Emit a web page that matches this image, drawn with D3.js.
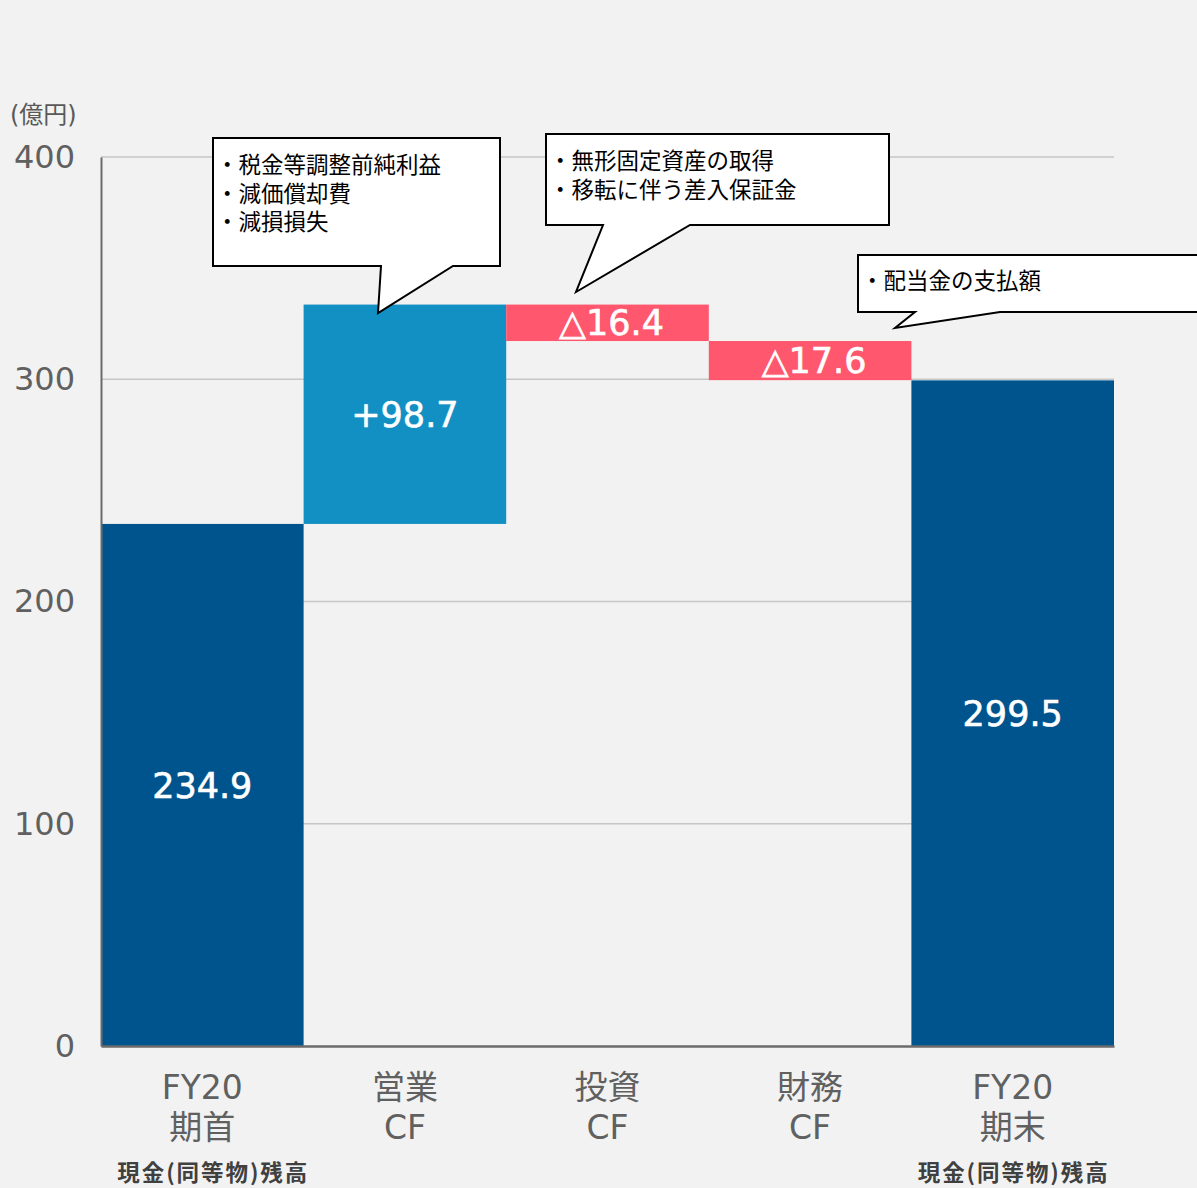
<!DOCTYPE html>
<html><head><meta charset="utf-8">
<script src="https://cdn.jsdelivr.net/npm/d3@7"></script>
<style>
html,body{margin:0;padding:0;background:#f2f2f2;}
svg{display:block;font-family:"DejaVu Sans","Noto Sans CJK JP",sans-serif;}
</style></head>
<body>
<svg id="c" width="1197" height="1188"></svg>
<script>
const categories = ["FY20期首","営業CF","投資CF","財務CF","FY20期末"];
const labelLine1 = ["FY20","営業","投資","財務","FY20"];
const labelLine2 = ["期首","CF","CF","CF","期末"];
const subLabels = ["現金(同等物)残高","","","","現金(同等物)残高"];
const kinds = ["total","up","down","down","total"];
const values = [234.9, 98.7, -16.4, -17.6, 299.5];
const valueLabels = ["234.9","+98.7","△16.4","△17.6","299.5"];
const yTicks = [0,100,200,300,400];
const unitLabel = "(億円)";
const callout1 = ["・税金等調整前純利益","・減価償却費","・減損損失"];
const callout2 = ["・無形固定資産の取得","・移転に伴う差入保証金"];
const callout3 = ["・配当金の支払額"];

const colors = {total:"#00548e", up:"#1390c3", down:"#ff576d"};

const svg = d3.select("#c");
const x = d3.scaleBand().domain(categories).range([101,1114]).padding(0);
const y = d3.scaleLinear().domain([0,400]).range([1046,157]);

let run = 0;
const bars = categories.map((c,i)=>{
  let y0,y1;
  if(kinds[i]==="total"){ y0=0; y1=values[i]; run=values[i]; }
  else { y0=run; y1=run+values[i]; run=y1; }
  return {c,i,lo:Math.min(y0,y1),hi:Math.max(y0,y1),kind:kinds[i],label:valueLabels[i]};
});

// gridlines
svg.append("g").selectAll("line").data(yTicks.filter(d=>d>0)).join("line")
  .attr("x1",101).attr("x2",1114).attr("y1",d=>y(d)).attr("y2",d=>y(d))
  .attr("stroke","#c6c6c6").attr("stroke-width",1.3);

// bars
svg.append("g").selectAll("rect").data(bars).join("rect")
  .attr("x",d=>x(d.c)).attr("width",x.bandwidth())
  .attr("y",d=>y(d.hi)).attr("height",d=>y(d.lo)-y(d.hi))
  .attr("fill",d=>colors[d.kind]);

// value labels
svg.append("g").selectAll("text").data(bars).join("text")
  .attr("x",d=>x(d.c)+x.bandwidth()/2 + (d.kind==="down"?4:0))
  .attr("y",d=>(y(d.lo)+y(d.hi))/2)
  .attr("dy","0.36em")
  .attr("text-anchor","middle").attr("fill","#fff")
  .attr("font-size",d=>d.kind==="down"?35:35)
  .attr("stroke","#fff").attr("stroke-width",0.6)
  .text(d=>d.label);

// y axis
const yAxis = d3.axisLeft(y).tickValues(yTicks).tickSize(0).tickPadding(26);
const ga = svg.append("g").attr("transform","translate(101,0)").call(yAxis);
ga.select(".domain").attr("stroke","#6b6b6b").attr("stroke-width",2);
ga.selectAll("text").attr("font-size",32).attr("fill","#606060")
  .attr("font-family","'DejaVu Sans',sans-serif");

// x axis line
const xAxis = d3.axisBottom(x).tickSize(0).tickFormat("");
const gx = svg.append("g").attr("transform","translate(0,1046)").call(xAxis);
gx.select(".domain").attr("stroke","#6b6b6b").attr("stroke-width",2.5);

// category labels
const cl = svg.append("g");
categories.forEach((c,i)=>{
  const cx = x(c)+x.bandwidth()/2;
  cl.append("text").attr("x",cx).attr("y",1099).attr("text-anchor","middle")
    .attr("font-size",33).attr("fill","#606060").text(labelLine1[i]);
  cl.append("text").attr("x",cx).attr("y",1139).attr("text-anchor","middle")
    .attr("font-size",33).attr("fill","#606060").text(labelLine2[i]);
  if(subLabels[i]) cl.append("text").attr("x",cx+(i===0?10:0)-95).attr("y",1181)
    .attr("font-family","'Noto Sans CJK JP',sans-serif")
    .attr("textLength",190).attr("lengthAdjust","spacing")
    .attr("font-size",22.5).attr("fill","#404040").attr("font-weight",700).text(subLabels[i]);
});

// unit label
svg.append("text").attr("x",10).attr("y",123).attr("font-size",24).attr("fill","#595959").text(unitLabel);

// callouts
function callout(bx,by,bw,bh,t1,t2,tip,lines,ty,lh){
  const path = `M${bx},${by} L${bx+bw},${by} L${bx+bw},${by+bh} L${t2},${by+bh} L${tip[0]},${tip[1]} L${t1},${by+bh} L${bx},${by+bh} Z`;
  svg.append("path").attr("d",path).attr("fill","#fff").attr("stroke","#000").attr("stroke-width",2);
  lines.forEach((l,k)=>{
    svg.append("text").attr("x",bx+3).attr("y",ty+k*lh)
      .attr("font-family","'Noto Sans CJK JP',sans-serif")
      .attr("font-size",22.5).attr("fill","#000").text(l);
  });
}
callout(213,138,287,128,381,453,[378,313],callout1,173,28.5);
callout(546,134,343,91,603,690,[576,292],callout2,169,29);
callout(858,255,345,57,915,1000,[895,328],callout3,289,28);
</script>
</body></html>
